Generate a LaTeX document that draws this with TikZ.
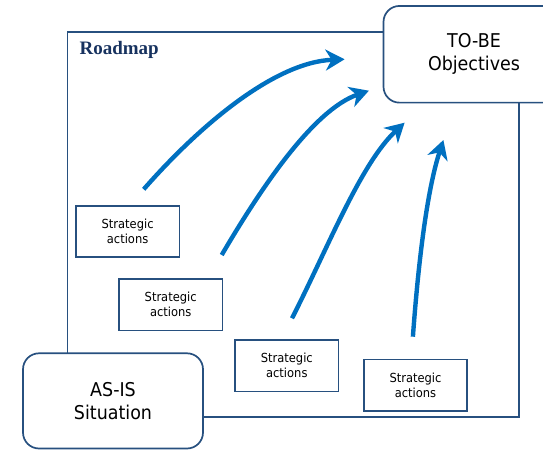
\documentclass[tikz,border=0pt]{standalone}
\usepackage{fontspec}
\usepackage{tikz, xcolor}
\usetikzlibrary{arrows.meta}

\setmainfont{Liberation Serif}
\newfontfamily\boxfont[FakeStretch=0.92]{DejaVu Sans}

\definecolor{framec}{HTML}{27507F}
\definecolor{titlec}{HTML}{17325F}
\definecolor{arrowc}{HTML}{0070C0}

\tikzset{
  stateblock/.style={draw=framec, line width=1.7pt, fill=white, rounded corners=16pt,
    align=center, inner sep=0pt, font=\boxfont\fontsize{19}{23}\selectfont},
  actionbox/.style={draw=framec, line width=1.7pt, fill=white, minimum width=103.5pt,
    minimum height=51.6pt, align=center, inner sep=0pt, font=\boxfont\fontsize{12.5}{15}\selectfont},
  roadarrow/.style={draw=arrowc, line width=4.4pt,
    -{Stealth[length=19pt, width=21pt, inset=6pt]}}
}

\begin{document}
\begin{tikzpicture}[x=1pt, y=1pt]
    \useasboundingbox (0, 0) rectangle (543, 450);
    \clip (0, 0) rectangle (543, 450);

    % roadmap frame
    \draw [draw=framec, line width=1.7pt] (67.5, 32.7) rectangle (519, 418.3);
    \node [anchor=base west, text=titlec, font=\bfseries\fontsize{19}{22}\selectfont] (title) at (76, 395.7) {Roadmap};

    \node [stateblock, minimum width=181pt, minimum height=96.7pt] (tobe) at (474, 395.7) {TO-BE\\Objectives};
    \node [stateblock, minimum width=180pt, minimum height=95.2pt] (asis) at (113, 49.1) {AS-IS\\Situation};

    \node [actionbox] (act1) at (127.6, 218.5) {Strategic\\actions};
    \node [actionbox] (act2) at (170.7, 145.2) {Strategic\\actions};
    \node [actionbox] (act3) at (286.8, 84.2) {Strategic\\actions};
    \node [actionbox] (act4) at (415.5, 64.7) {Strategic\\actions};

    % arrow ends
    \coordinate (from1) at (143.7, 260.7);
    \coordinate (to1) at (344.6, 390.7);
    \coordinate (from2) at (221.7, 195);
    \coordinate (to2) at (368.9, 359.3);
    \coordinate (from3) at (292, 131.7);
    \coordinate (to3) at (404.6, 327.3);
    \coordinate (from4) at (412.9, 113.3);
    \coordinate (to4) at (443.4, 310);

    \draw [roadarrow] (from1) .. controls (200, 325) and (275, 388) .. (to1);
    \draw [roadarrow] (from2) .. controls (258, 257) and (312.2, 339.8) .. (to2);
    \draw [roadarrow] (from3) .. controls (328.3, 203) and (360.7, 286.4) .. (to3);
    \draw [roadarrow] (from4) .. controls (418, 183) and (426.4, 257.7) .. (to4);

  \end{tikzpicture}
\end{document}
